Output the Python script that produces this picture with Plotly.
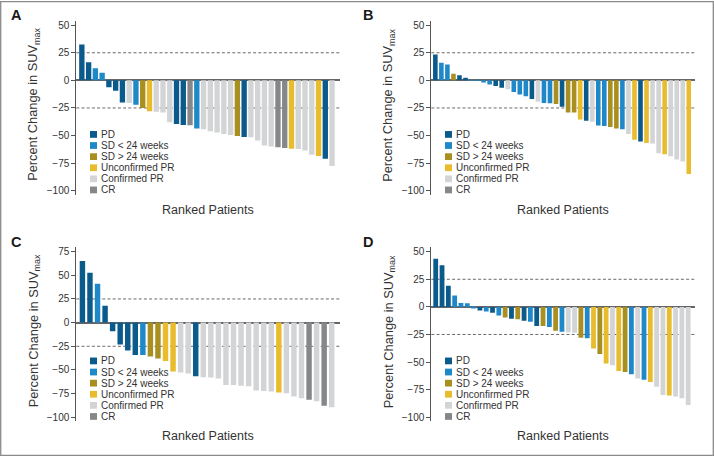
import plotly.graph_objects as go

W, H = 714, 458

# ---------------- data ----------------
category_labels = ["PD", "SD < 24 weeks", "SD > 24 weeks", "Unconfirmed PR", "Confirmed PR", "CR"]
category_codes = ["PD", "SD1", "SD2", "UPR", "CPR", "CR"]
category_colors = ["#0a5a8c", "#1e88c9", "#a88f20", "#e8bc2c", "#d3d4d6", "#858789"]

panel_letters = ["A", "B", "C", "D"]

A_values = [32.5, 16.5, 11, 6.8, -6.3, -9.3, -20, -20.5, -22, -25, -28, -28.5, -29, -38,
            -39.5, -40.5, -40.7, -43.7, -44.3, -46, -47.3, -48.7, -49.6, -50.3, -51.4, -51.6,
            -54.5, -59, -60, -60.6, -61.3, -62, -62.2, -63.5, -67.3, -68.5, -71, -77.5]
A_groups = ["PD", "PD", "SD1", "SD1", "PD", "PD", "PD", "CPR", "SD1", "SD2", "UPR", "CPR", "CPR", "CPR",
            "PD", "PD", "CR", "SD1", "CPR", "CPR", "CPR", "CPR", "CPR", "SD2", "PD", "CPR",
            "CPR", "CPR", "CPR", "CR", "CR", "UPR", "CPR", "CPR", "CPR", "UPR", "PD", "CPR"]

B_values = [23.5, 16, 14.3, 6, 4.7, 2.4, 0.3, -0.4, -2, -3.8, -5.2, -6.7, -8, -10.5, -12.7,
            -14.3, -16.8, -19.3, -20.5, -20.7, -21.3, -24, -29, -29.2, -35.5, -36.6, -37.5,
            -40.8, -41.4, -42.3, -43.7, -44.3, -48.7, -53.8, -55.3, -56.7, -57.2, -66, -67,
            -68.8, -71.8, -73.6, -84.8]
B_groups = ["PD", "SD1", "SD1", "SD2", "PD", "PD", "SD1", "SD1", "SD1", "SD1", "PD", "PD", "CPR",
            "SD1", "SD1", "SD1", "PD", "CPR", "SD1", "SD1", "SD2", "PD", "SD2", "SD2", "UPR", "PD",
            "CPR", "SD1", "SD1", "SD2", "SD2", "SD1", "CPR", "UPR", "PD", "UPR", "CPR", "CPR", "UPR",
            "CPR", "CPR", "CPR", "UPR"]

C_values = [65, 52.8, 41, 17.8, -9, -23, -29.4, -34.3, -34.3, -35.7, -37.8, -40.6, -51.7, -52.8,
            -53.8, -56.6, -57.7, -57.9, -59, -66, -66, -66.8, -67.2, -71.6, -72.3, -72.7, -73.8,
            -74.5, -78, -80, -81.5, -83, -87.8, -89.5]
C_groups = ["PD", "PD", "SD1", "PD", "PD", "PD", "PD", "PD", "SD1", "SD2", "SD2", "UPR", "UPR", "CPR",
            "CPR", "PD", "CPR", "CPR", "CPR", "CPR", "CPR", "CPR", "CPR", "CPR", "CPR", "CPR", "UPR",
            "CPR", "CPR", "CPR", "CR", "CPR", "CR", "CPR"]

D_values = [43.5, 37.8, 19.2, 10.2, 3.6, 3.3, -0.5, -3.3, -4.2, -5.4, -7.8, -9.6, -10.8, -11.1,
            -12.6, -13.5, -17.4, -17.4, -18.3, -21.6, -22.5, -23, -23.4, -28, -28.5, -37.8, -42.6,
            -51.3, -52.8, -58, -59, -61, -64.8, -66, -68, -72.3, -79.8, -80.4, -81.3, -82.8, -89]
D_groups = ["PD", "PD", "PD", "SD1", "SD1", "SD1", "SD1", "PD", "SD1", "PD", "SD1", "SD2", "PD", "SD2",
            "PD", "SD1", "PD", "SD2", "SD1", "SD2", "SD1", "CPR", "CPR", "SD2", "SD1", "UPR", "SD2",
            "UPR", "CPR", "UPR", "SD2", "SD1", "CPR", "SD1", "UPR", "CPR", "CPR", "UPR", "CPR", "CPR", "CPR"]

yticks_AB = [-100, -75, -50, -25, 0, 25, 50]
yticks_C = [-100, -75, -50, -25, 0, 25, 50, 75]
threshold_lines = [25, -25]

y_title = "Percent Change in SUV<sub>max</sub>"
x_title = "Ranked Patients"

# ---------------- layout helpers ----------------
color_of = dict(zip(category_codes, category_colors))
FONT = "Liberation Sans, Arial, Helvetica, sans-serif"
TXT = "#333333"

def px(x):
    return x / W

def py(y):
    return 1 - y / H

panels = [
    # values, groups, (ox, oy), xrange, yrange, ticks, bar width, letter x
    (A_values, A_groups, (0, 0), [-0.82, 38.1], [-103.6, 53.9], yticks_AB, 0.79, 10),
    (B_values, B_groups, (355, 0), [-0.67, 42.95], [-103.6, 53.9], yticks_AB, 0.76, 362),
    (C_values, C_groups, (0, 228), [-0.81, 34.03], [-104.2, 79.5], yticks_C, 0.72, 10),
    (D_values, D_groups, (355, 228), [-0.7, 41.0], [-103.6, 53.9], yticks_AB, 0.76, 362),
]

fig = go.Figure()
shapes = []
annotations = []
layout = {}

for i, (vals, groups, (ox, oy), xr, yr, ticks, bw, lx) in enumerate(panels, start=1):
    sfx = "" if i == 1 else str(i)
    fig.add_trace(go.Bar(
        x=list(range(len(vals))), y=vals,
        marker=dict(color=[color_of[g] for g in groups], line=dict(width=0)),
        width=bw, xaxis="x" + sfx, yaxis="y" + sfx, showlegend=False,
        hovertemplate="%{y}<extra></extra>",
    ))
    layout["xaxis" + sfx] = dict(
        domain=[px(ox + 76.3), px(ox + 339.5)], range=xr, anchor="y" + sfx,
        showticklabels=False, showline=False, zeroline=False, showgrid=False, ticks="",
    )
    layout["yaxis" + sfx] = dict(
        domain=[py(oy + 195), py(oy + 20)], range=yr, anchor="x" + sfx,
        tickvals=ticks, showgrid=False, showline=True, linecolor="#555555", linewidth=1,
        ticks="outside", ticklen=4, tickwidth=1, tickcolor="#555555",
        tickfont=dict(size=10, color=TXT, family=FONT),
        zeroline=True, zerolinecolor="#666666", zerolinewidth=1.5,
    )
    for t in threshold_lines:
        shapes.append(dict(type="line", xref=("x" + sfx + " domain"), yref="y" + sfx,
                           x0=0, x1=1, y0=t, y1=t, layer="below",
                           line=dict(color="#6a6a6a", width=1, dash="3px,2.2px")))
    # y title
    annotations.append(dict(text=y_title, textangle=-90, xref="paper", yref="paper",
                            x=px(ox + 34), y=py(oy + 104.5), xanchor="center", yanchor="middle",
                            showarrow=False, font=dict(size=12.8, color=TXT, family=FONT)))
    # x title
    annotations.append(dict(text=x_title, xref="paper", yref="paper",
                            x=px(ox + 208), y=py(oy + 210), xanchor="center", yanchor="middle",
                            showarrow=False, font=dict(size=12.5, color=TXT, family=FONT)))
    # panel letter
    annotations.append(dict(text="<b>" + panel_letters[i - 1] + "</b>", xref="paper", yref="paper",
                            x=px(lx - 1), y=py(oy + 14.5), xanchor="left", yanchor="middle",
                            showarrow=False, font=dict(size=14.5, color="#1a1a1a", family=FONT)))
    # legend (drawn manually inside panel)
    for k, (lab, col) in enumerate(zip(category_labels, category_colors)):
        cy = oy + 134.3 + 11.18 * k
        shapes.append(dict(type="rect", xref="paper", yref="paper",
                           x0=px(ox + 90), x1=px(ox + 97), y0=py(cy + 3.4), y1=py(cy - 3.4),
                           fillcolor=col, line=dict(width=0)))
        annotations.append(dict(text=lab, xref="paper", yref="paper",
                                x=px(ox + 99), y=py(cy), xanchor="left", yanchor="middle",
                                showarrow=False, font=dict(size=10, color=TXT, family=FONT)))

# outer frame
shapes.append(dict(type="rect", xref="paper", yref="paper",
                   x0=px(0.7), x1=px(W - 0.7), y0=py(H - 0.7), y1=py(0.7),
                   line=dict(color="#8a8a8a", width=1.3), fillcolor="rgba(0,0,0,0)"))

fig.update_layout(
    width=W, height=H, margin=dict(l=0, r=0, t=0, b=0),
    paper_bgcolor="white", plot_bgcolor="white",
    font=dict(family=FONT, color=TXT),
    barmode="overlay", bargap=0.2,
    shapes=shapes, annotations=annotations, **layout,
)

fig.write_html(
    "out.html",
    config={"displayModeBar": False},
    post_script="document.body.style.margin='0';document.body.style.padding='0';"
                "document.body.style.overflow='hidden';",
)
